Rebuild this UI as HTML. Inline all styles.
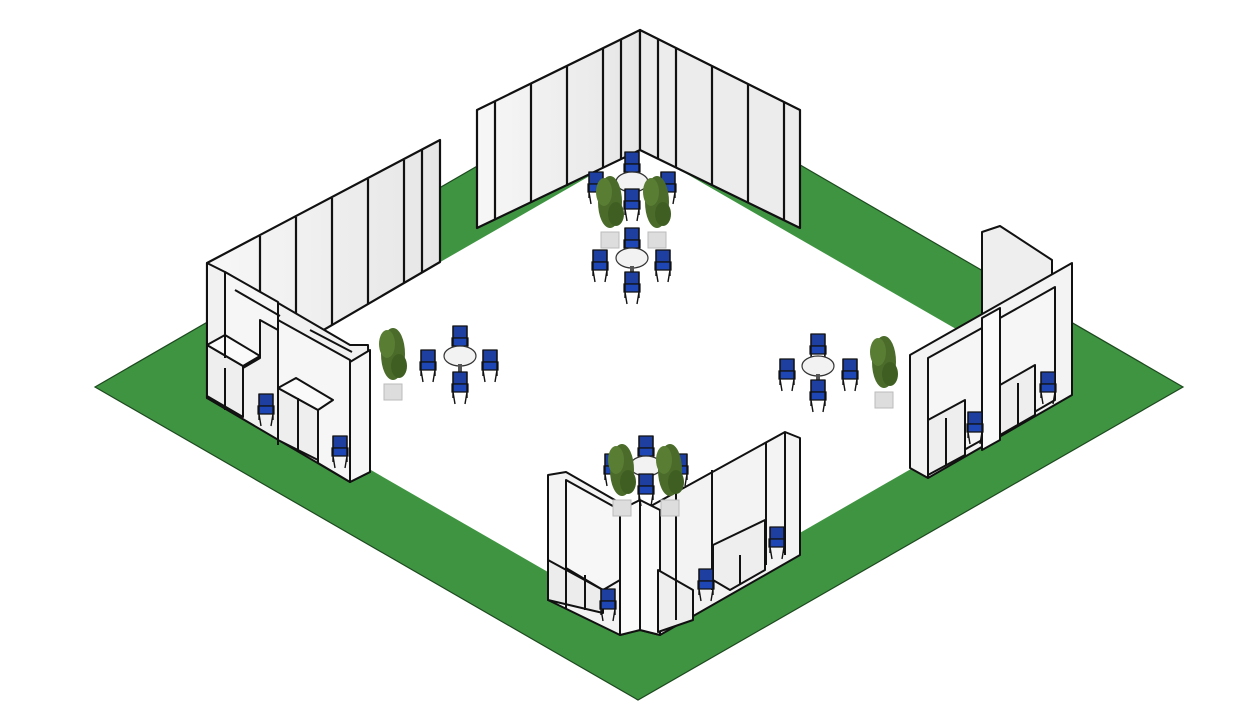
<!DOCTYPE html>
<html><head><meta charset="utf-8"><style>html,body{margin:0;padding:0;background:#fff}svg{display:block}</style></head>
<body>
<svg width="1242" height="720" viewBox="0 0 1242 720" xmlns="http://www.w3.org/2000/svg">
<defs>
<linearGradient id="wg" x1="0" y1="0" x2="1" y2="0"><stop offset="0" stop-color="#f7f7f7"/><stop offset="1" stop-color="#e6e6e6"/></linearGradient>
<g id="chair"><path d="M-7,-16 L7,-16 L7,-4 L-7,-4 Z" fill="#1e3fa0" stroke="#111" stroke-width="1.2"/><path d="M-8,-4 L8,-4 L8,4 L-8,4Z" fill="#1e47b5" stroke="#111" stroke-width="1.2"/><path d="M-7,4 L-5,16 M7,4 L5,16 M-7,-16 L-7,10 M7,-16 L7,10" stroke="#111" stroke-width="1.4" fill="none"/></g>
<g id="plant"><ellipse cx="0" cy="-30" rx="12" ry="26" fill="#4a6b2a"/><ellipse cx="-6" cy="-40" rx="8" ry="14" fill="#5a7d34"/><ellipse cx="6" cy="-18" rx="8" ry="12" fill="#3f5f22"/><rect x="-9" y="0" width="18" height="16" fill="#ddd" stroke="#bbb"/></g>
<g id="table"><ellipse cx="0" cy="0" rx="16" ry="10" fill="#f2f2f2" stroke="#333" stroke-width="1.2"/><rect x="-2" y="8" width="4" height="10" fill="#555"/></g>
</defs>
<!-- green floor -->
<polygon points="95,387 640,72 1183,387 638,700" fill="#3f9442" stroke="#1d4a1f" stroke-width="1.2"/>
<polygon points="225,386 640,147 1055,386 640,625" fill="#fff"/>

<!-- top back wall -->
<g stroke="#111" stroke-width="2.2" stroke-linejoin="round">
<polygon points="477,110 640,30 640,150 477,228" fill="url(#wg)"/>
<polygon points="640,30 800,110 800,228 640,150" fill="#ececec"/>
<path d="M495,101 V220 M531,84 V203 M567,66 V186 M603,48 V168 M621,39 V159 M658,39 V159 M676,48 V168 M712,66 V186 M748,84 V203 M784,102 V220" fill="none"/>
</g>
<!-- left wall -->
<g stroke="#111" stroke-width="2.2" stroke-linejoin="round">
<polygon points="207,263 440,140 440,262 207,398" fill="url(#wg)"/>
<path d="M260,236 V367 M296,217 V346 M332,198 V325 M368,179 V304 M404,160 V283 M422,150 V272" fill="none"/>
</g>
<!-- left booths -->
<g stroke="#111" stroke-width="2" stroke-linejoin="round">
<polygon points="207,263 225,272 350,345 368,345 370,472 350,482 207,398" fill="#f1f1f1"/>
<polygon points="225,272 278,302 278,320 350,360 350,482 318,463 318,420 278,400 278,330 260,320 260,358 243,368 225,358" fill="#f6f6f6"/>
<polygon points="207,345 243,366 243,417 207,396" fill="#eee"/>
<polygon points="207,345 225,335 260,356 243,366" fill="#fafafa"/>
<polygon points="278,388 318,410 318,460 278,440" fill="#eee"/>
<polygon points="278,388 296,378 333,400 318,410" fill="#fafafa"/>
<polygon points="350,362 370,350 370,472 350,482" fill="#f7f7f7"/>
<path d="M225,272 V358 M278,320 V445 M225,368 V410 M298,398 V450 M235,290 L280,316 M310,330 L352,352" fill="none"/>
</g>
<!-- right booths -->
<g stroke="#111" stroke-width="2" stroke-linejoin="round">
<polygon points="982,232 1000,226 1052,260 1052,300 982,320" fill="#eee"/>
<polygon points="910,355 1072,263 1072,395 928,478 910,468" fill="#f3f3f3"/>
<polygon points="928,358 982,328 982,440 928,470" fill="#f6f6f6"/>
<polygon points="1000,318 1055,287 1055,400 1000,432" fill="#f6f6f6"/>
<polygon points="928,420 965,400 965,455 928,475" fill="#eee"/>
<polygon points="1000,385 1035,365 1035,415 1000,435" fill="#eee"/>
<polygon points="982,318 1000,308 1000,440 982,450" fill="#fafafa"/>
<path d="M910,355 V468 M928,358 V478 M1055,287 V400 M1072,263 V395 M946,418 V465 M1018,383 V425" fill="none"/>
</g>
<!-- bottom booths -->
<g stroke="#111" stroke-width="2" stroke-linejoin="round">
<polygon points="548,475 566,472 620,503 640,512 785,432 800,438 800,555 660,635 640,630 620,635 548,600" fill="#f3f3f3"/>
<polygon points="566,480 620,510 620,580 603,590 566,568" fill="#f7f7f7"/>
<polygon points="548,560 603,590 603,613 548,600" fill="#ececec"/>
<polygon points="620,510 640,500 660,510 660,635 640,630 620,635" fill="#fafafa"/>
<polygon points="658,570 693,590 693,620 658,632" fill="#eee"/>
<polygon points="713,545 765,520 765,570 730,590 713,580" fill="#eee"/>
<path d="M566,480 V608 M640,500 V630 M676,490 V620 M712,470 V590 M766,443 V565 M785,432 V555 M585,575 V610 M740,555 V585" fill="none"/>
</g>

<!-- center furniture -->
<use href="#chair" x="632" y="168"/><use href="#table" x="632" y="182"/><use href="#chair" x="632" y="205"/>
<use href="#chair" x="596" y="188"/><use href="#chair" x="668" y="188"/>
<use href="#plant" x="610" y="232"/><use href="#plant" x="657" y="232"/>
<use href="#chair" x="632" y="244"/><use href="#table" x="632" y="258"/><use href="#chair" x="632" y="288"/>
<use href="#chair" x="600" y="266"/><use href="#chair" x="663" y="266"/>
<use href="#chair" x="460" y="342"/><use href="#table" x="460" y="356"/><use href="#chair" x="460" y="388"/>
<use href="#chair" x="428" y="366"/><use href="#chair" x="490" y="366"/>
<use href="#plant" x="393" y="384"/>
<use href="#chair" x="818" y="350"/><use href="#table" x="818" y="366"/><use href="#chair" x="818" y="396"/>
<use href="#chair" x="787" y="375"/><use href="#chair" x="850" y="375"/>
<use href="#plant" x="884" y="392"/>
<use href="#chair" x="646" y="452"/><use href="#table" x="646" y="466"/>
<use href="#chair" x="612" y="470"/><use href="#chair" x="680" y="470"/>
<use href="#plant" x="622" y="500"/><use href="#plant" x="670" y="500"/>
<use href="#chair" x="646" y="490"/>
<!-- booth chairs -->
<use href="#chair" x="266" y="410"/><use href="#chair" x="340" y="452"/>
<use href="#chair" x="975" y="428"/><use href="#chair" x="1048" y="388"/>
<use href="#chair" x="608" y="605"/><use href="#chair" x="706" y="585"/><use href="#chair" x="777" y="543"/>
</svg>
</body></html>
